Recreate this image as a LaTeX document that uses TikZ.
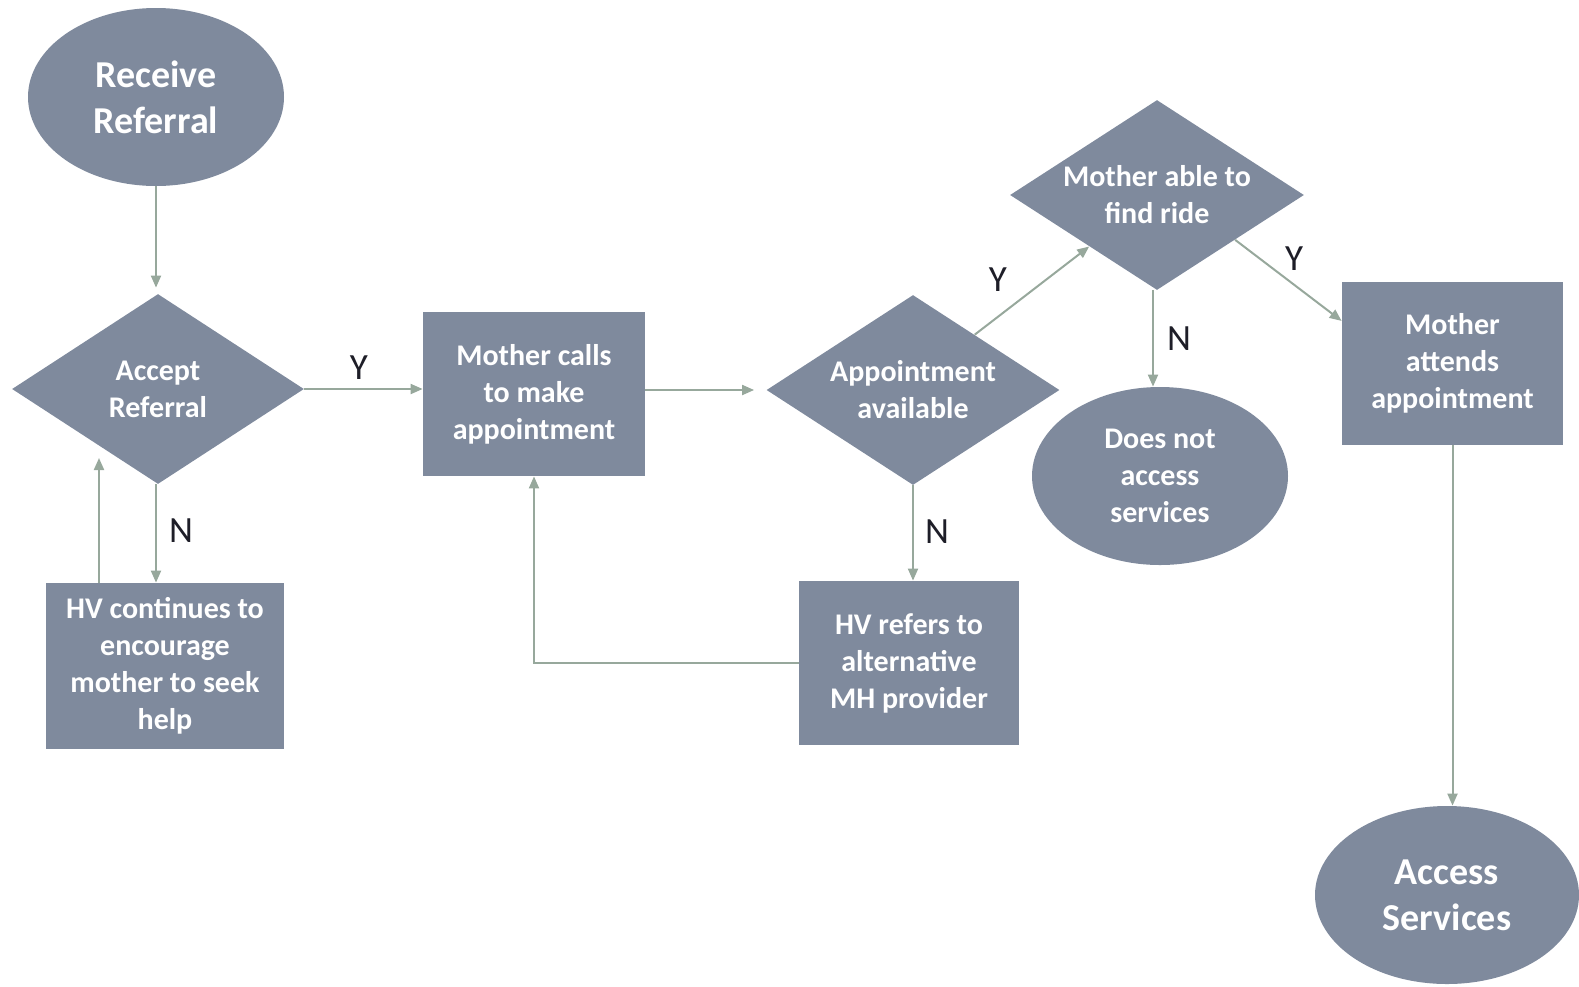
\documentclass[tikz,border=0pt]{standalone}
\usepackage{fontspec}
\setmainfont{Carlito}
\usetikzlibrary{shapes.geometric,arrows.meta,calc}
\definecolor{boxfill}{HTML}{7F8A9D}
\definecolor{linkcol}{HTML}{97A89C}
\definecolor{labcol}{HTML}{1E1E28}
\begin{document}
\begin{tikzpicture}[x=0.5pt,y=-0.5pt,
  base/.style={fill=boxfill,draw=none,text=white,align=center,inner sep=0pt,
    font=\bfseries\fontsize{15}{18.5}\selectfont},
  oval/.style={base,ellipse},
  bigoval/.style={oval,font=\bfseries\fontsize{19}{23}\selectfont},
  choice/.style={base,diamond,aspect=1.55},
  task/.style={base,rectangle},
  link/.style={draw=linkcol,line width=1pt,-{Triangle[length=6pt,width=5pt]}},
  yn/.style={text=labcol,font=\fontsize{18.5}{22}\selectfont,inner sep=0pt}]
\useasboundingbox (0,0) rectangle (1579,986);

% nodes
\node[bigoval,minimum width=128pt,minimum height=89pt] (rr) at (156,97) {Receive\\Referral};
\node[choice,minimum width=146pt,minimum height=95pt] (ar) at (158,389) {Accept\\Referral};
\node[task,minimum width=111pt,minimum height=82pt] (mc) at (534,394) {Mother calls\\to make\\appointment};
\node[choice,minimum width=146.5pt,minimum height=95pt] (aa) at (913,390) {Appointment\\available};
\node[choice,minimum width=147pt,minimum height=95pt] (mr) at (1157,195) {Mother able to\\find ride};
\node[oval,minimum width=128pt,minimum height=89pt] (dn) at (1160,476) {Does not\\access\\services};
\node[task,minimum width=110.5pt,minimum height=81.5pt] (ma) at (1452.5,363.5) {Mother\\attends\\appointment};
\node[bigoval,minimum width=132pt,minimum height=89pt] (as) at (1447,895) {Access\\Services};
\node[task,minimum width=119pt,minimum height=83pt] (hc) at (165,666) {HV continues to\\encourage\\mother to seek\\help};
\node[task,minimum width=110pt,minimum height=82pt] (hr) at (909,663) {HV refers to\\alternative\\MH provider};

% connectors
\coordinate (rrfoot) at ($(rr.south)+(0,0)$);
\draw[link,shorten >=3pt] (rrfoot) -- (rrfoot |- ar.north);
\draw[link] (ar.east) -- (ar.east -| mc.west);
\coordinate (arfoot) at ($(ar.south)+(-2,0)$);
\draw[link] (arfoot) -- (arfoot |- hc.north);
\coordinate (backtip) at (99,458);
\draw[link] (backtip |- hc.north) -- (backtip);
\draw[link,shorten >=6pt] (mc.east |- aa.west) -- (aa.west);
\draw[link] (aa.south) -- (aa.south |- hr.north);
\draw[link] (hr.west) -| (mc.south);
\draw[link] ($(aa.north)!0.42!(aa.east)$) -- ($(mr.west)!0.54!(mr.south)$);
\coordinate (mrfoot) at ($(mr.south)+(-4,0)$);
\draw[link] (mrfoot) -- (mrfoot |- dn.north);
\draw[link] ($(mr.south)!0.53!(mr.east)$) -- ($(ma.north west)!0.24!(ma.south west)$);
\draw[link] (ma.south) -- (ma.south |- as.north);

% branch labels
\node[yn] (y1) at (359,368) {Y};
\node[yn] (n1) at (181,531) {N};
\node[yn] (y2) at (998,280) {Y};
\node[yn] (n2) at (1179,339) {N};
\node[yn] (y3) at (1294,259) {Y};
\node[yn] (n3) at (937,532) {N};
\end{tikzpicture}
\end{document}
